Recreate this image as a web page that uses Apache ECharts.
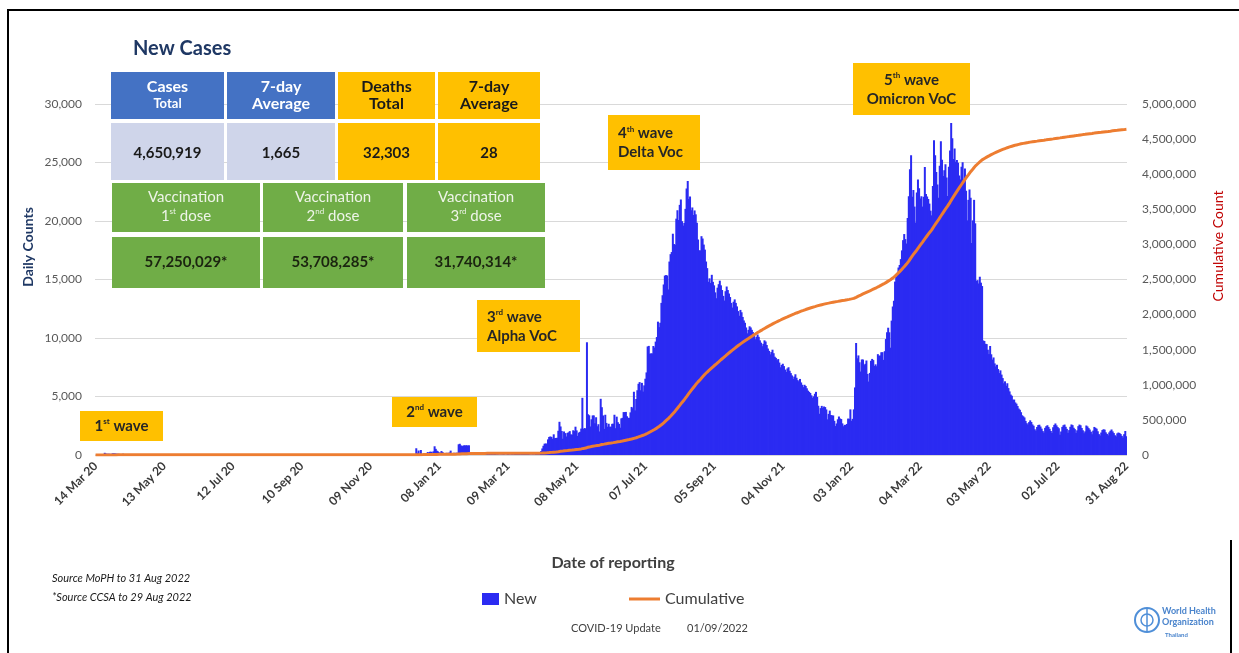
<!DOCTYPE html>
<html>
<head>
<meta charset="utf-8">
<title>New Cases</title>
<script src="https://cdn.jsdelivr.net/npm/echarts@6/dist/echarts.min.js"></script>
<style>
  html, body { margin: 0; padding: 0; background: #ffffff; }
  #chart { width: 1239px; height: 653px; }
</style>
</head>
<body>
<div id="chart"></div>
<script>
// Daily reported cases, one value per day starting 14 Mar 2020
const firstDay = [2020, 2, 14];

const cases2020 = [
  // Mar (from 14th)
  7,32,33,30,35,60,50,89,188,122,106,107,111,91,109,143,136,127,
  // Apr
  120,104,103,89,51,38,111,54,54,50, 45,33,28,34,30,29,28,33,32,27, 19,15,13,15,53,15,9,7,9,7,
  // May
  6,6,18,3,1,1,0,3,5,0, 0,1,2,1,0,0,3,2,3,1, 3,0,0,2,3,3,4,11,1,1, 8,
  // Jun
  1,2,1,5,0,2,1,1,3,0, 0,1,3,1,4,0,0,1,0,1, 3,0,2,1,0,0,2,1,0,0,
  // Jul
  1,7,1,0,3,2,0,1,2,1, 2,0,5,2,1,0,0,0,0,9, 0,3,0,1,0,6,2,3,2,2, 0,
  // Aug
  1,2,0,4,0,1,3,3,4,6, 1,0,8,2,3,3,0,1,1,4, 8,2,0,0,0,4,3,0,1,5, 7,
  // Sep
  4,3,3,1,2,7,4,1,2,1, 0,2,4,1,5,4,0,0,2,1, 2,2,1,3,8,4,2,3,1,6,
  // Oct
  6,3,1,3,0,2,5,4,1,6, 7,4,7,3,5,5,2,1,9,8, 4,6,5,3,3,3,3,9,7,7, 9,
  // Nov
  10,4,6,1,12,5,0,2,3,3, 16,4,5,4,3,6,14,10,9,4, 6,2,5,9,6,7,4,1,9,8,
  // Dec
  6,8,9,3,5,4,3,9,6,8, 6,19,13,5,6,3,17,15,576,188, 382,46,427,37,110,64,121,144,250,194, 279
];

const cases2021 = [
  // Jan
  279,216,315,745,527,365,305,212,206,339, 249,162,148,179,188,175,212,374,171,161, 193,100,198,187,914,959,819,756,802,834, 815,
  // Feb
  837,796,829,186,145,202,175,111,144,136, 151,133,128,92,107,114,110,123,89,77, 85,69,82,55,83,80,55,61,
  // Mar
  43,33,40,48,64,56,24,49,72,54, 35,64,70,53,82,114,88,118,105,68, 98,103,97,95,94,86,91,59,39,42, 64,
  // Apr
  26,103,84,84,194,250,334,559,789,967, 985,965,1335,1543,1582,1547,1390,1767,1443,1458, 1470,2070,2839,2438,2048,1390,2012,1871,1583,1891,
  // May
  1940,2041,1763,1732,2112,2044,2419,2101,1630,1919, 1983,2256,4887,2234,2302,2256,9635,3481,3394,2438, 3052,3382,3382,2713,3226,2455,2631,2012,4803,4084, 3382,
  // Jun
  2230,3440,2742,2419,2671,2419,2419,2662,2680,3440, 2290,3277,2804,2662,2331,3129,3175,3666,3667,3682, 3309,3175,3174,3644,4108,3995,5406,3813,4786,5533,
  // Jul
  6087,6230,5533,6166,5420,5951,6519,7058,9276,9326, 8656,8685,8685,9317,9186,9692,10082,11397,10928,11305, 13002,13655,14575,15335,15376,15344,14150,16533,17165,17345, 18912,
  // Aug
  18027,17970,20200,20920,20082,21379,21838,19983,19603,19843, 21038,22782,23418,21882,22086,20919,21157,20515,20902,20571, 19851,18417,17491,17492,18702,18501,17984,17553,16536,15972, 14802,
  // Sep
  15100,14700,15400,14800,14500,13900,13400,14300,14600,14900, 14500,14100,13600,13200,14000,14400,14100,13800,13500,13000, 12600,13100,13300,13000,12700,12300,11900,12400,12200,11800,
  // Oct
  11500,11300,10900,10400,10700,11000,10900,10700,10500,10200, 9900,10100,10300,10100,9800,9600,9300,9500,9800,9700, 9400,9100,8900,8600,8800,9000,8700,8400,8300,8100, 8200,
  // Nov
  7900,7500,7700,7800,7600,7300,7100,7400,7500,7200, 7000,6800,6500,6700,6900,6600,6400,6300,6500,6200, 6000,5800,6000,5900,5700,5500,5400,5300,5100,4900,
  // Dec
  5015,5234,5396,4955,4209,3525,4005,4198,4022,4147, 4096,3893,3048,3515,3793,3417,3381,3380,2919,2476, 2696,3052,3290,3120,3072,2704,2458,2580,2575,2654, 3112
];

const cases2022 = [
  // Jan
  3091,3899,2927,3091,3899,5775,9573,8263,8511,7926, 7133,8167,8158,7681,7793,8077,6929,6276,7016,8053, 8212,8112,7618,7748,7587,8618,8470,8511,8780,8788, 8129,
  // Feb
  8872,9909,10490,10879,10490,9172,11484,12692,13182,14822, 15242,15563,16022,16242,16742,17488,18363,18883,18453,18073, 20255,22114,24422,25615,22074,22641,21232,19863,
  // Mar
  22429,23557,22789,21928,22117,21232,22073,24621,22304,22086, 21881,21486,20881,20483,22984,26903,25615,24185,23126,21978, 24731,26815,25225,23836,24344,24856,23708,22140,24635,26026, 28379,
  // Apr
  27071,25298,26190,25069,25222,24989,23899,23557,24635,25020, 23543,24483,22584,20052,21808,22693,21988,18122,20053,21808, 19800,14887,14944,14657,15237,14728,14440,9790,9742,9503,
  // May
  9480,8999,8625,9317,8608,8157,8337,7828,7569,7715, 7346,7002,7233,6872,6574,6132,6298,5920,6132,5721, 5436,5166,5063,4722,4739,4493,4390,4187,3967,3864, 3658,
  // Jun
  3396,3309,3210,2913,2717,2604,2810,2962,2821,2613, 2502,2198,2077,2393,2560,2591,2434,2251,2044,1907, 2320,2464,2544,2402,2237,2050,1883,2372,2573,2695,
  // Jul
  2532,2389,2285,1734,2010,2403,2545,2601,2409,2232, 1895,2128,2412,2610,2553,2329,2210,1888,2110,2466, 2600,2538,2310,2112,1863,2019,2521,2440,2299,2176, 1991,
  // Aug
  1774,2085,2398,2321,2251,2029,1783,1662,1919,2134, 2200,2168,1939,1806,1680,1932,2070,2181,2015,1876, 1688,1586,1848,1921,1879,1791,1636,1489,1780,2050, 1600
];

// Axis ranges
const dailyAxis = { min: 0, max: 30000, step: 5000 };
const cumulativeAxis = { min: 0, max: 5000000, step: 500000 };
const labelEveryDays = 60;

// Summary panel text
const summaryHeads = [['Cases', 'Total'], ['7-day', 'Average'], ['Deaths', 'Total'], ['7-day', 'Average']];
const summaryValues = ['4,650,919', '1,665', '32,303', '28'];
const doseOrdinals = [['1', 'st'], ['2', 'nd'], ['3', 'rd']];
const doseValues = ['57,250,029*', '53,708,285*', '31,740,314*'];

// Wave annotations: ordinal, suffix, second line
const waveNotes = [
  ['1', 'st', ''],
  ['2', 'nd', ''],
  ['3', 'rd', 'Alpha VoC'],
  ['4', 'th', 'Delta Voc'],
  ['5', 'th', 'Omicron VoC']
];

const sourceNotes = ['Source MoPH to 31 Aug 2022', '*Source CCSA to 29 Aug 2022'];
const updateNote = ['COVID-19 Update', '01/09/2022'];

// ---------------------------------------------------------------
const FONT = 'Lato, "Open Sans", "DejaVu Sans", sans-serif';
const newCases = cases2020.concat(cases2021, cases2022);

const MONTHS = ['Jan','Feb','Mar','Apr','May','Jun','Jul','Aug','Sep','Oct','Nov','Dec'];
const dateLabels = newCases.map((_, i) => {
  const d = new Date(Date.UTC(firstDay[0], firstDay[1], firstDay[2] + i));
  const dd = String(d.getUTCDate()).padStart(2, '0');
  return dd + ' ' + MONTHS[d.getUTCMonth()] + ' ' + String(d.getUTCFullYear()).slice(2);
});

const cumulative = [];
newCases.reduce((acc, v) => { const s = acc + v; cumulative.push(s); return s; }, 0);

const thousands = v => String(v).replace(/\B(?=(\d{3})+(?!\d))/g, ',');

// Graphic helpers
function rect(x, y, w, h, fill) {
  return { type: 'rect', z: 100, shape: { x, y, width: w, height: h }, style: { fill } };
}
function text(x, y, str, o) {
  o = o || {};
  const style = {
    text: str, x: 0, y: 0,
    fill: o.fill || '#1a1a1a',
    fontFamily: o.family || FONT,
    fontSize: o.size || 14,
    fontWeight: o.weight || 'normal',
    fontStyle: o.italic ? 'italic' : 'normal',
    align: o.align || 'center', verticalAlign: 'middle',
    textAlign: o.align || 'center', textVerticalAlign: 'middle'
  };
  if (o.rich) style.rich = o.rich;
  return { type: 'text', z: 110, x, y, rotation: o.rotation || 0, style };
}
function supText(x, y, base, sup, tail, o) {
  const common = { fill: o.fill, fontFamily: FONT, fontWeight: o.weight || 'bold' };
  return text(x, y, '{m|' + base + '}{s|' + sup + '}{m|' + tail + '}', Object.assign({}, o, {
    rich: {
      m: Object.assign({ fontSize: o.size, lineHeight: o.size + 2 }, common),
      s: Object.assign({ fontSize: Math.round(o.size * 0.55), verticalAlign: 'top', lineHeight: o.size + 2 }, common)
    }
  }));
}

const g = [];

// Frame
g.push({ type: 'polyline', z: 120, shape: { points: [[8, 653], [8, 10], [1239, 10]] }, style: { stroke: '#000', lineWidth: 2, fill: null } });
g.push({ type: 'line', z: 120, shape: { x1: 1231, y1: 540, x2: 1231, y2: 653 }, style: { stroke: '#000', lineWidth: 2 } });

// Panel title
g.push(text(133, 49, 'New Cases', { size: 20, weight: 'bold', fill: '#1F3864', align: 'left' }));

// Summary panel: header row and value row
const topCols = [[111, 224], [227, 335], [338, 435], [438, 540]];
const headFill = ['#4472C4', '#4472C4', '#FFC000', '#FFC000'];
const valueFill = ['#CFD5EA', '#CFD5EA', '#FFC000', '#FFC000'];
topCols.forEach((c, i) => {
  const cx = (c[0] + c[1]) / 2;
  g.push(rect(c[0], 72, c[1] - c[0], 47, headFill[i]));
  g.push(rect(c[0], 123, c[1] - c[0], 57, valueFill[i]));
  const dark = i >= 2;
  const col = dark ? '#1a1a1a' : '#ffffff';
  g.push(text(cx, 87, summaryHeads[i][0], { size: 16, weight: 'bold', fill: col }));
  g.push(text(cx, 104, summaryHeads[i][1], { size: i === 0 ? 13 : 16, weight: 'bold', fill: col }));
  g.push(text(cx, 153, summaryValues[i], { size: 15, weight: 'bold', fill: '#1a1a1a' }));
});

// Vaccination rows
const vacCols = [[112, 260], [263, 403], [407, 545]];
vacCols.forEach((c, i) => {
  const cx = (c[0] + c[1]) / 2;
  g.push(rect(c[0], 183, c[1] - c[0], 49, '#70AD47'));
  g.push(rect(c[0], 237, c[1] - c[0], 51, '#70AD47'));
  g.push(text(cx, 197, 'Vaccination', { size: 15, fill: '#eef4e8' }));
  g.push(supText(cx, 216, doseOrdinals[i][0], doseOrdinals[i][1], ' dose', { size: 15, weight: 'normal', fill: '#eef4e8' }));
  g.push(text(cx, 262, doseValues[i], { size: 15, weight: 'bold', fill: '#1b2410' }));
});

// Wave annotation boxes
const waveBoxes = [
  [80, 411, 83, 30, 'center'],
  [392, 397, 85, 30, 'center'],
  [477, 300, 103, 52, 'left'],
  [608, 115, 92, 55, 'left'],
  [853, 63, 117, 52, 'center']
];
waveBoxes.forEach((b, i) => {
  const [x, y, w, h, al] = b;
  const n = waveNotes[i];
  g.push(rect(x, y, w, h, '#FFC000'));
  const tx = al === 'left' ? x + 10 : x + w / 2;
  if (n[2]) {
    g.push(supText(tx, y + h / 2 - 9, n[0], n[1], ' wave', { size: 15, fill: '#262626', align: al }));
    g.push(text(tx, y + h / 2 + 10, n[2], { size: 15, weight: 'bold', fill: '#262626', align: al }));
  } else {
    g.push(supText(tx, y + h / 2, n[0], n[1], ' wave', { size: 15, fill: '#262626', align: al }));
  }
});

// Axis titles
g.push(text(28, 247, 'Daily Counts', { size: 14, weight: 'bold', fill: '#1F3864', rotation: Math.PI / 2 }));
g.push(text(1218, 246, 'Cumulative Count', { size: 14, weight: 'normal', fill: '#C00000', rotation: Math.PI / 2 }));
g.push(text(613, 563, 'Date of reporting', { size: 16, weight: 'bold', fill: '#404040' }));

// Footnotes
g.push(text(52, 578, sourceNotes[0], { size: 11, italic: true, fill: '#1a1a1a', align: 'left' }));
g.push(text(52, 597, sourceNotes[1], { size: 11, italic: true, fill: '#1a1a1a', align: 'left' }));
g.push(text(571, 628, updateNote[0], { size: 11, fill: '#404040', align: 'left' }));
g.push(text(687, 628, updateNote[1], { size: 11, fill: '#404040', align: 'left' }));

// Organisation emblem
g.push({ type: 'circle', z: 110, shape: { cx: 1147, cy: 620, r: 12 }, style: { fill: '#ffffff', stroke: '#4f8fd8', lineWidth: 2 } });
g.push({ type: 'circle', z: 110, shape: { cx: 1147, cy: 620, r: 6 }, style: { fill: '#ffffff', stroke: '#4f8fd8', lineWidth: 1.5 } });
g.push({ type: 'line', z: 111, shape: { x1: 1147, y1: 609, x2: 1147, y2: 632 }, style: { stroke: '#4f8fd8', lineWidth: 1.5 } });
g.push(text(1162, 611, 'World Health', { size: 9, weight: 'bold', fill: '#4a84cc', align: 'left' }));
g.push(text(1162, 622, 'Organization', { size: 9, weight: 'bold', fill: '#4a84cc', align: 'left' }));
g.push(text(1165, 635, 'Thailand', { size: 6, weight: 'bold', fill: '#4a84cc', align: 'left' }));

const axisLabelStyle = { color: '#595959', fontSize: 12, fontFamily: FONT };

const option = {
  animation: false,
  backgroundColor: '#ffffff',
  textStyle: { fontFamily: FONT },
  grid: { left: 95, right: 112, top: 104, bottom: 198, containLabel: false, outerBoundsMode: 'none' },
  xAxis: {
    type: 'category',
    data: dateLabels,
    boundaryGap: true,
    axisLine: { show: false },
    axisTick: { show: false },
    splitLine: { show: false },
    axisLabel: {
      interval: labelEveryDays - 1, rotate: 45, margin: 9,
      color: '#3a3a3a', fontSize: 12, fontWeight: 'bold', fontFamily: FONT
    }
  },
  yAxis: [
    {
      type: 'value', min: dailyAxis.min, max: dailyAxis.max, interval: dailyAxis.step,
      axisLine: { show: false }, axisTick: { show: false },
      axisLabel: Object.assign({ margin: 13, formatter: thousands }, axisLabelStyle),
      splitLine: { show: true, lineStyle: { color: '#d9d9d9', width: 1 } }
    },
    {
      type: 'value', position: 'right', min: cumulativeAxis.min, max: cumulativeAxis.max, interval: cumulativeAxis.step,
      axisLine: { show: false }, axisTick: { show: false },
      axisLabel: Object.assign({ margin: 15, formatter: thousands }, axisLabelStyle),
      splitLine: { show: false }
    }
  ],
  legend: [
    {
      data: [{ name: 'New', icon: 'rect' }],
      left: 482, top: 591, itemWidth: 17, itemHeight: 12, padding: 0,
      textStyle: { fontSize: 16, color: '#404040', fontFamily: FONT },
      selectedMode: false
    },
    {
      data: [{ name: 'Cumulative', icon: 'rect' }],
      left: 629, top: 591, itemWidth: 31, itemHeight: 3, padding: 0,
      textStyle: { fontSize: 16, color: '#404040', fontFamily: FONT },
      selectedMode: false
    }
  ],
  series: [
    {
      name: 'New', type: 'bar', data: newCases,
      barWidth: 2, barGap: '-100%',
      itemStyle: { color: '#2b2bf2' },
      emphasis: { disabled: true }
    },
    {
      name: 'Cumulative', type: 'line', yAxisIndex: 1, data: cumulative,
      showSymbol: false, symbol: 'none',
      color: '#ED7D31',
      itemStyle: { color: '#ED7D31' },
      lineStyle: { color: '#ED7D31', width: 3 },
      emphasis: { disabled: true },
      z: 5
    }
  ],
  graphic: { elements: g }
};

const chart = echarts.init(document.getElementById('chart'), null, { renderer: 'canvas' });
chart.setOption(option);
</script>
</body>
</html>
